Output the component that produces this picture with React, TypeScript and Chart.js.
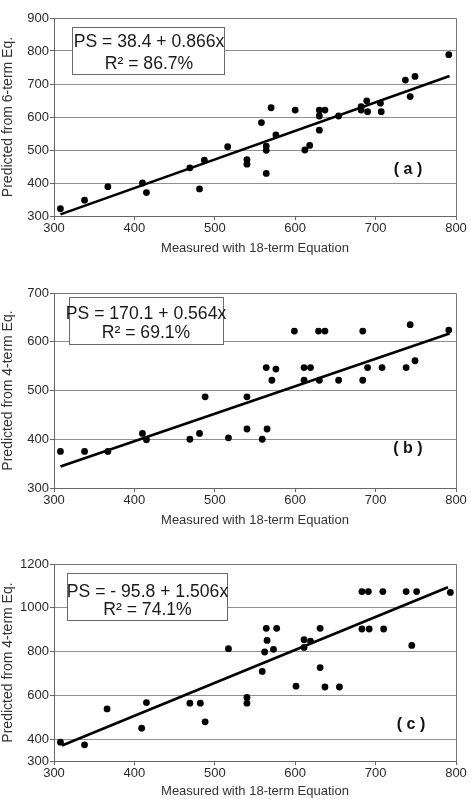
import React, { useEffect, useRef } from "react";
import { Chart, registerables } from "chart.js";

Chart.register(...registerables);

// ---------- data ----------
const xTicks = [300, 400, 500, 600, 700, 800];

const measuredA = [308, 338, 367, 410, 415, 469, 481, 487, 516, 540, 540, 558, 564, 564, 564, 570, 576, 600, 612, 618, 630, 630, 630, 637, 654, 682, 682, 689, 690, 706, 707, 737, 749, 743, 791];
const predictedA = [322, 348, 389, 400, 371, 446, 382, 469, 510, 471, 457, 583, 512, 499, 429, 628, 546, 621, 500, 514, 621, 603, 560, 621, 603, 621, 631, 649, 616, 642, 616, 712, 723, 662, 789];
const fitAx = [308, 792];
const fitAy = [305, 724];
const yTicksA = [300, 400, 500, 600, 700, 800, 900];

const measuredB = [308, 338, 367, 410, 415, 469, 481, 488, 517, 540, 540, 559, 564, 565, 571, 576, 599, 611, 611, 619, 629, 630, 637, 654, 684, 684, 690, 708, 738, 743, 749, 791];
const predictedB = [375, 375, 375, 412, 399, 400, 412, 487, 403, 421, 487, 400, 547, 421, 521, 544, 622, 521, 547, 547, 622, 521, 622, 521, 622, 521, 547, 547, 547, 635, 561, 624];
const fitBx = [308, 792];
const fitBy = [344, 617];
const yTicksB = [300, 400, 500, 600, 700];

const measuredC = [308, 338, 366, 409, 415, 469, 482, 488, 517, 540, 540, 559, 562, 564, 565, 573, 577, 601, 611, 611, 619, 631, 631, 637, 655, 683, 683, 691, 692, 709, 710, 738, 745, 751, 793];
const predictedC = [386, 374, 538, 450, 567, 564, 564, 479, 813, 590, 564, 709, 798, 906, 851, 810, 906, 642, 819, 854, 848, 906, 727, 638, 638, 1074, 903, 1074, 903, 1074, 903, 1074, 828, 1074, 1070];
const fitCx = [310, 790];
const fitCy = [371, 1094];
const yTicksC = [300, 400, 600, 800, 1000, 1200];

const xTitle = "Measured with 18-term Equation";
const yTitles = ["Predicted from 6-term Eq.", "Predicted from 4-term Eq.", "Predicted from 4-term Eq."];
const equations = ["PS = 38.4 + 0.866x", "PS = 170.1 + 0.564x", "PS = - 95.8 + 1.506x"];
const rSquared = ["R\u00B2 = 86.7%", "R\u00B2 = 69.1%", "R\u00B2 = 74.1%"];
const panelLabels = ["( a )", "( b )", "( c )"];

// ---------- layout ----------
const FONT = "'Liberation Sans', Arial, Helvetica, sans-serif";
const W = 471;

type Panel = {
  top: number;
  height: number;
  padTop: number;
  xAxisH: number;
  xTitlePad: number;
  mx: number[];
  my: number[];
  fx: number[];
  fy: number[];
  yTicks: number[];
  idx: number;
  box: { x: number; y: number; w: number; h: number; tx: number; l1: number; l2: number };
  label: { dx: number; dy: number };
};

const panels: Panel[] = [
  {
    top: 0, height: 260, padTop: 18, xAxisH: 44, xTitlePad: 4,
    mx: measuredA, my: predictedA, fx: fitAx, fy: fitAy, yTicks: yTicksA, idx: 0,
    box: { x: 18, y: 9, w: 152, h: 47, tx: 95, l1: 24.5, l2: 45.7 },
    label: { dx: -48, dy: -46 },
  },
  {
    top: 260, height: 270, padTop: 33, xAxisH: 42, xTitlePad: 2,
    mx: measuredB, my: predictedB, fx: fitBx, fy: fitBy, yTicks: yTicksB, idx: 1,
    box: { x: 15, y: 4, w: 154, h: 47, tx: 92, l1: 21.2, l2: 40.3 },
    label: { dx: -48, dy: -39 },
  },
  {
    top: 530, height: 269, padTop: 34, xAxisH: 38, xTitlePad: 0,
    mx: measuredC, my: predictedC, fx: fitCx, fy: fitCy, yTicks: yTicksC, idx: 2,
    box: { x: 13, y: 9, w: 160, h: 47, tx: 93.5, l1: 27.7, l2: 46 },
    label: { dx: -45, dy: -36 },
  },
];

const panelPlugin = {
  id: "panelDeco",
  beforeDatasetsDraw(chart: any, _args: any, opts: any) {
    const { ctx, chartArea: a } = chart;
    const p: Panel = opts.panel;
    const b = p.box;
    ctx.save();
    ctx.fillStyle = "#ffffff";
    ctx.fillRect(a.left + b.x, a.top + b.y, b.w, b.h);
    ctx.strokeStyle = "#6a6a6a";
    ctx.lineWidth = 1;
    ctx.strokeRect(Math.round(a.left + b.x) + 0.5, Math.round(a.top + b.y) + 0.5, b.w, b.h);
    ctx.fillStyle = "#1a1a1a";
    ctx.font = `17.6px ${FONT}`;
    ctx.textAlign = "center";
    ctx.textBaseline = "middle";
    ctx.fillText(equations[p.idx], a.left + b.tx, a.top + b.l1);
    ctx.fillText(rSquared[p.idx], a.left + b.tx, a.top + b.l2);
    ctx.restore();
  },
  afterDraw(chart: any, _args: any, opts: any) {
    const { ctx, chartArea: a } = chart;
    const p: Panel = opts.panel;
    ctx.save();
    ctx.strokeStyle = "#777777";
    ctx.lineWidth = 1;
    ctx.beginPath();
    ctx.moveTo(Math.round(a.left) + 0.5, Math.round(a.top) + 0.5);
    ctx.lineTo(Math.round(a.right) + 0.5, Math.round(a.top) + 0.5);
    ctx.lineTo(Math.round(a.right) + 0.5, Math.round(a.bottom) + 0.5);
    ctx.stroke();
    ctx.fillStyle = "#111111";
    ctx.font = `bold 16px ${FONT}`;
    ctx.textAlign = "center";
    ctx.textBaseline = "middle";
    ctx.fillText(panelLabels[p.idx], a.right + p.label.dx, a.bottom + p.label.dy);
    ctx.restore();
  },
};

function makeChart(canvas: HTMLCanvasElement, p: Panel) {
  const pts = p.mx.map((x, i) => ({ x, y: p.my[i] }));
  const fit = p.fx.map((x, i) => ({ x, y: p.fy[i] }));
  const yMin = p.yTicks[0];
  const yMax = p.yTicks[p.yTicks.length - 1];
  const tickFont = { family: FONT, size: 13 };
  return new Chart(canvas, {
    type: "scatter",
    data: {
      datasets: [
        {
          type: "line",
          data: fit,
          borderColor: "#000",
          borderWidth: 2.6,
          pointRadius: 0,
          fill: false,
        } as any,
        {
          data: pts,
          backgroundColor: "#000",
          borderWidth: 0,
          pointRadius: 3.4,
        },
      ],
    },
    options: {
      animation: false,
      responsive: false,
      devicePixelRatio: 1,
      events: [],
      layout: { padding: { top: p.padTop, right: 15, left: 0, bottom: 0 } },
      plugins: {
        legend: { display: false },
        tooltip: { enabled: false },
        panelDeco: { panel: p },
      } as any,
      scales: {
        x: {
          type: "linear",
          min: 300,
          max: 800,
          afterBuildTicks: (s: any) => {
            s.ticks = xTicks.map((v) => ({ value: v }));
          },
          ticks: { font: tickFont, color: "#2a2a2a", padding: 1, maxRotation: 0, callback: (v: any) => String(v) },
          grid: { drawOnChartArea: false, tickLength: 4, tickColor: "#666", color: "#666" },
          border: { color: "#666", width: 1 },
          title: {
            display: true,
            text: xTitle,
            font: { family: FONT, size: 13 },
            color: "#333",
            padding: { top: 0, bottom: p.xTitlePad },
          },
          afterFit: (s: any) => {
            s.height = p.xAxisH;
          },
        },
        y: {
          type: "linear",
          min: yMin,
          max: yMax,
          afterBuildTicks: (s: any) => {
            s.ticks = p.yTicks.map((v) => ({ value: v }));
          },
          ticks: { font: tickFont, color: "#2a2a2a", padding: 1, callback: (v: any) => String(v) },
          grid: { color: "#8f8f8f", tickLength: 4, tickColor: "#666" },
          border: { color: "#666", width: 1 },
          title: {
            display: true,
            text: yTitles[p.idx],
            font: { family: FONT, size: 14 },
            color: "#333",
            padding: { top: 0, bottom: 0 },
          },
          afterFit: (s: any) => {
            s.width = 54;
          },
        },
      },
    },
    plugins: [panelPlugin as any],
  });
}

function PanelCanvas({ p }: { p: Panel }) {
  const ref = useRef<HTMLCanvasElement | null>(null);
  useEffect(() => {
    if (!ref.current) return;
    const c = makeChart(ref.current, p);
    return () => c.destroy();
  }, [p]);
  return (
    <canvas
      ref={ref}
      width={W}
      height={p.height}
      style={{ position: "absolute", left: 0, top: p.top, width: W, height: p.height, display: "block" }}
    />
  );
}

export default function App() {
  return (
    <div
      style={{
        position: "absolute",
        left: 0,
        top: 0,
        width: W,
        height: 799,
        overflow: "hidden",
        background: "#fff",
      }}
    >
      {panels.map((p) => (
        <PanelCanvas key={p.idx} p={p} />
      ))}
    </div>
  );
}
